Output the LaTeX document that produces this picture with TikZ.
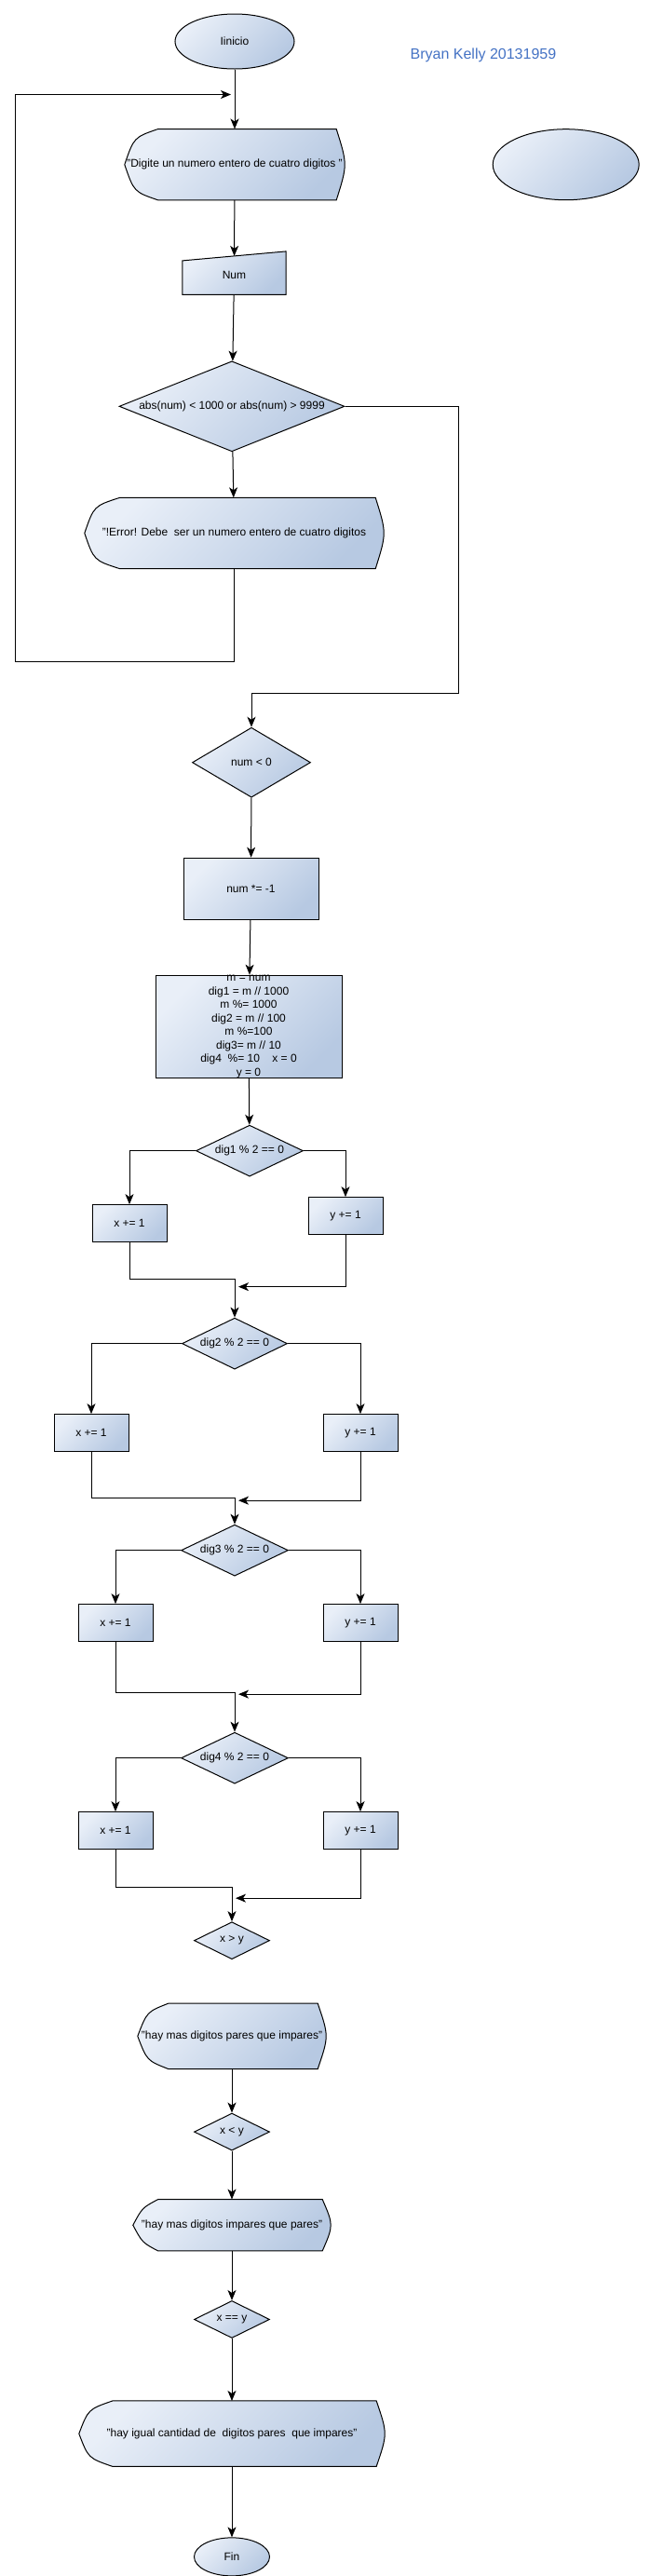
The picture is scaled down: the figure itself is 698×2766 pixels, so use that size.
\documentclass[tikz,border=0pt]{standalone}
\usepackage{fontspec}
\setmainfont{Liberation Sans}
\usepackage{tikz}
\usetikzlibrary{arrows.meta, positioning, shapes.geometric, calc, backgrounds}
\usepackage{xcolor}
\definecolor{boxlight}{HTML}{E9EFF8}
\definecolor{boxdark}{HTML}{B7C9E2}
\definecolor{titleblue}{HTML}{4472C4}

\begin{document}
\begin{tikzpicture}[
  x=1pt, y=1pt,
  font=\fontsize{12}{14.5}\selectfont,
  boxsize/.style 2 args={minimum width=#1pt, minimum height=#2pt},
  shadebox/.style={draw, line width=1pt, left color=boxlight, right color=boxdark, shading angle=45},
  terminal/.style={ellipse, shadebox, inner sep=0pt},
  decision/.style={diamond, aspect=2.5, shadebox, inner sep=0pt},
  process/.style={rectangle, shadebox, inner sep=0pt, align=center},
  showbox/.style={rectangle, inner sep=0pt, align=center},
  inputbox/.style={rectangle, inner sep=0pt},
  arrow/.style={line width=1pt, -{Stealth[length=11pt, width=9pt, inset=3pt]}}
]
\useasboundingbox (0,0) rectangle (698,-2766);

% Start
\node[terminal, boxsize={128}{59}] (inicio) at (252,-44.5) {Iinicio};
\node[right=124pt of inicio, yshift=-14.5pt, inner sep=0pt, text=titleblue, font=\fontsize{16}{18}\selectfont] (autor) {Bryan Kelly 20131959};

% Input
\node[showbox, boxsize={236}{76}, below=64pt of inicio] (msg) {"Digite un numero entero de cuatro digitos "};
\node[terminal, boxsize={157}{76}, right=158.5pt of msg] (blank) {};
\node[inputbox, boxsize={111}{41}, below=60pt of msg, xshift=-0.5pt] (num) {Num};

% Validation
\node[decision, boxsize={242}{97}, below=71pt of num, xshift=-2.5pt] (valida) {abs(num) < 1000 or abs(num) > 9999};
\node[showbox, boxsize={321}{76}, below=49pt of valida, xshift=2.5pt] (error) {"!Error! Debe~ ser un numero entero de cuatro digitos};
\node[decision, boxsize={127}{75}, below=170pt of error, xshift=18.5pt] (negativo) {num < 0};
\node[process, boxsize={145}{66}, below=64pt of negativo, xshift=-0.5pt] (signo) {num *= -1};
\node[process, boxsize={200}{110}, below=59pt of signo, xshift=-2.5pt] (digitos) {m = num\\ dig1 = m // 1000\\ m \%= 1000\\ dig2 = m // 100\\ m \%=100\\ dig3= m // 10\\ dig4~ \%= 10\ \ \ \ x = 0\\ y = 0};

% Digit checks
\node[decision, boxsize={115}{55}, below=49.5pt of digitos, xshift=1pt] (par1) {dig1 \% 2 == 0};
\node[process, boxsize={80}{40}, below=29.5pt of par1, xshift=-129pt] (x1) {x += 1};
\node[process, boxsize={80}{40}, below=21.5pt of par1, xshift=103pt] (y1) {y += 1};

\node[decision, boxsize={113}{55}, below=151pt of par1, xshift=-16pt] (par2) {dig2 \% 2 == 0};
\node[process, boxsize={80}{40}, below=47.5pt of par2, xshift=-154pt] (x2) {x += 1};
\node[process, boxsize={80}{40}, below=47.5pt of par2, xshift=135pt] (y2) {y += 1};

\node[decision, boxsize={115}{55}, below=166pt of par2] (par3) {dig3 \% 2 == 0};
\node[process, boxsize={80}{40}, below=29.5pt of par3, xshift=-128pt] (x3) {x += 1};
\node[process, boxsize={80}{40}, below=29.5pt of par3, xshift=135pt] (y3) {y += 1};

\node[decision, boxsize={115}{55}, below=167pt of par3] (par4) {dig4 \% 2 == 0};
\node[process, boxsize={80}{40}, below=29.5pt of par4, xshift=-128pt] (x4) {x += 1};
\node[process, boxsize={80}{40}, below=29.5pt of par4, xshift=135pt] (y4) {y += 1};

% Results
\node[decision, boxsize={81}{40}, below=147.5pt of par4, xshift=-3pt] (mayor) {x > y};
\node[showbox, boxsize={202}{70}, below=47pt of mayor] (pares) {"hay mas digitos pares que impares"};
\node[decision, boxsize={81}{40}, below=47pt of pares] (menor) {x < y};
\node[showbox, boxsize={212}{55}, below=52pt of menor] (impares) {"hay mas digitos impares que pares"};
\node[decision, boxsize={81}{40}, below=53pt of impares] (igual) {x == y};
\node[showbox, boxsize={328}{70}, below=67pt of igual] (iguales) {"hay igual cantidad de~ digitos pares~ que impares"};
\node[terminal, boxsize={81}{41}, below=76pt of iguales] (fin) {Fin};

% Display and input outlines
\begin{scope}[on background layer]
  \foreach \n/\d in {msg/36, error/38, pares/33, impares/27, iguales/36} {
    \path[shadebox] ($(\n.north west)+(\d,0)$) -- ($(\n.north east)+(-9,0)$)
      .. controls ($(\n.east)+(3,0)$) .. ($(\n.south east)+(-9,0)$)
      -- ($(\n.south west)+(\d,0)$)
      .. controls ($(\n.south west)+(10,9)$) .. (\n.west)
      .. controls ($(\n.north west)+(10,-9)$) .. ($(\n.north west)+(\d,0)$) -- cycle;
  }
  \path[shadebox] (num.south west) -- (num.south east) -- ([yshift=5pt]num.north east) -- ([yshift=-5pt]num.north west) -- cycle;
\end{scope}

% Main flow
\coordinate[below=27pt of inicio] (retorno);
\draw[arrow] (inicio) -- (msg);
\draw[arrow] (msg) -- (num);
\draw[arrow] (num) -- (valida);
\draw[arrow] (valida) -- (error);
\draw[arrow] (error.south) -- ++(0,-100pt) -| ([xshift=-236pt]retorno) -- ([xshift=-4pt]retorno);
\draw[arrow] (valida.east) -- ++(122pt,0) |- ([yshift=36pt]negativo.north) -- (negativo);
\draw[arrow] (negativo) -- (signo);
\draw[arrow] (signo) -- (digitos);
\draw[arrow] (digitos) -- (par1);

% Branches
\draw[arrow] (par1.west) -| (x1.north);
\draw[arrow] (par1.east) -| (y1.north);
\draw[arrow] (x1.south) -- ++(0,-39pt) -| (par2.north);
\draw[arrow] (y1.south) |- ([xshift=4pt, yshift=33pt]par2.north);

\draw[arrow] (par2.west) -| (x2.north);
\draw[arrow] (par2.east) -| (y2.north);
\draw[arrow] (x2.south) -- ++(0,-49pt) -| (par3.north);
\draw[arrow] (y2.south) |- ([xshift=4pt, yshift=25.5pt]par3.north);

\draw[arrow] (par3.west) -| (x3.north);
\draw[arrow] (par3.east) -| (y3.north);
\draw[arrow] (x3.south) -- ++(0,-54pt) -| (par4.north);
\draw[arrow] (y3.south) |- ([xshift=4pt, yshift=40.5pt]par4.north);

\draw[arrow] (par4.west) -| (x4.north);
\draw[arrow] (par4.east) -| (y4.north);
\draw[arrow] (x4.south) -- ++(0,-40pt) -| (mayor.north);
\draw[arrow] (y4.south) |- ([xshift=4pt, yshift=25pt]mayor.north);

% Messages
\draw[arrow] (pares) -- (menor);
\draw[arrow] (menor) -- (impares);
\draw[arrow] (impares) -- (igual);
\draw[arrow] (igual) -- (iguales);
\draw[arrow] (iguales) -- (fin);

\end{tikzpicture}
\end{document}
